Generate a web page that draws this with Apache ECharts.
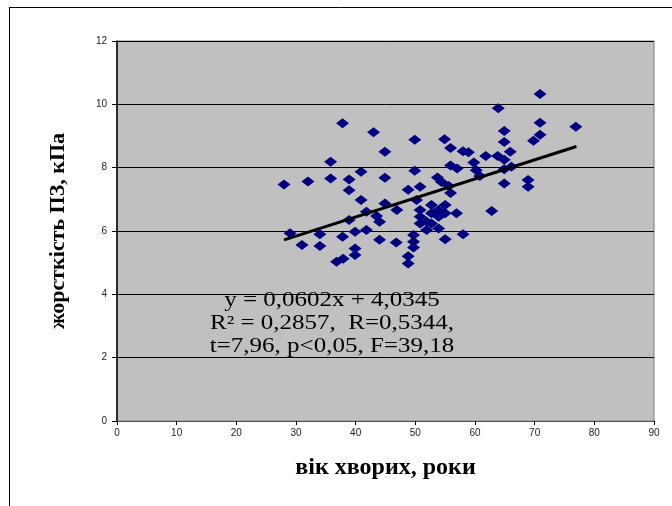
<!DOCTYPE html>
<html><head><meta charset="utf-8">
<script src="https://cdn.jsdelivr.net/npm/echarts@6/dist/echarts.min.js"></script>
<style>html,body{margin:0;padding:0;background:#fff}#c{width:672px;height:506px}</style>
</head><body><div id="c"></div>
<script>
// age of patients (years)
const ages = [28,29,31,32,34,34,35.8,35.8,36.8,37.8,37.8,37.9,38.9,38.9,38.9,39.9,39.9,39.9,40.9,40.9,41.8,41.8,43,43.5,44,44,44.9,44.9,44.9,
  46.9,46.8,48.8,48.8,48.8,49.9,49.9,50.2,49.7,49.7,49.7,
  50.8,50.8,50.8,50.8,51.9,51.9,52.7,52.7,52.7,53.9,53.9,53.9,55,55,56.9,55,53.7,54.4,55.6,55.9,54.9,55.9,55.9,57,58,58.9,58,
  59.8,60.2,60.8,61.8,62.8,63.9,63.8,64.9,64.9,64.9,64.9,64.9,65.9,66.1,68.9,68.9,69.8,70.9,70.9,70.9,76.9];
// stiffness (kPa)
const stiffness = [7.47,5.93,5.56,7.56,5.9,5.53,8.19,7.66,5.03,9.4,5.82,5.12,7.63,7.29,6.35,5.98,5.45,5.24,7.87,6.98,6.61,6.03,9.12,6.47,6.29,5.72,8.5,7.68,6.87,
  6.66,5.64,7.3,5.2,4.97,8.88,7.9,6.98,5.87,5.66,5.48,
  7.4,6.66,6.45,6.24,6.29,6.03,6.82,6.56,6.24,6.66,6.45,6.08,6.82,6.56,6.56,5.74,7.69,7.55,7.42,7.2,8.9,8.62,8.07,7.97,8.52,8.49,5.9,
  8.16,7.92,7.74,8.37,6.63,9.88,8.37,9.16,8.81,8.25,7.95,7.5,8.5,8.03,7.61,7.4,8.85,9.04,9.42,10.33,9.29];
const slope = 0.0602, intercept = 4.0345;
const trendX = [28, 77];
const xTicks = [0,10,20,30,40,50,60,70,80,90];
const yTicks = [0,2,4,6,8,10,12];
const annotation = ['y = 0,0602x + 4,0345', 'R² = 0,2857,  R=0,5344,', 't=7,96, p<0,05, F=39,18'];
const xTitle = 'вік хворих, роки';
const yTitle = 'жорсткість ПЗ, кПа';

const points = ages.map((a,i)=>[a, stiffness[i]]);
const trend = trendX.map(x=>[x, slope*x+intercept]);
const chart = echarts.init(document.getElementById('c'));
const tickFont = {fontFamily:'Liberation Sans', fontSize:10, color:'#222'};
const annY = [301, 324, 347];
const annText = annotation.map((t,i)=>({type:'text', x:332, y:annY[i], scaleX:1.25, originX:0, originY:0,
  style:{text:t, textAlign:'center', textVerticalAlign:'middle', font:'20px "Liberation Serif"', fill:'#000'}, z:10}));
chart.setOption({
  animation:false,
  grid:{left:117, top:41, right:18, bottom:85, show:true, backgroundColor:'#c0c0c0', borderColor:'#808080', borderWidth:1},
  xAxis:{type:'value', min:xTicks[0], max:xTicks[xTicks.length-1], interval:10,
    axisLine:{lineStyle:{color:'#555', width:1}}, axisTick:{show:true, length:4, lineStyle:{color:'#000'}},
    axisLabel:Object.assign({margin:7}, tickFont), splitLine:{show:false},
    name:xTitle, nameLocation:'middle', nameGap:35,
    nameTextStyle:{fontFamily:'Liberation Serif', fontWeight:'bold', fontSize:24, color:'#000'}},
  yAxis:{type:'value', min:yTicks[0], max:yTicks[yTicks.length-1], interval:2,
    axisLine:{show:true, lineStyle:{color:'#000', width:1.5}}, axisTick:{show:true, length:5, lineStyle:{color:'#000'}},
    axisLabel:Object.assign({margin:10}, tickFont),
    splitLine:{show:true, lineStyle:{color:'#000', width:1}},
    name:yTitle, nameLocation:'middle', nameGap:48,
    nameTextStyle:{fontFamily:'Liberation Serif', fontWeight:'bold', fontSize:22, color:'#000'}},
  series:[
    {type:'scatter', data:points, symbol:'diamond', symbolSize:[13,10], itemStyle:{color:'#000080', opacity:1}, z:3},
    {type:'line', data:trend, symbol:'none', lineStyle:{color:'#000', width:3}, z:4}
  ],
  graphic:[
    {type:'line', shape:{x1:9, y1:7.5, x2:672, y2:7.5}, style:{stroke:'#000', lineWidth:1}},
    {type:'line', shape:{x1:9.5, y1:7, x2:9.5, y2:506}, style:{stroke:'#000', lineWidth:1}}
  ].concat(annText)
});
</script></body></html>
